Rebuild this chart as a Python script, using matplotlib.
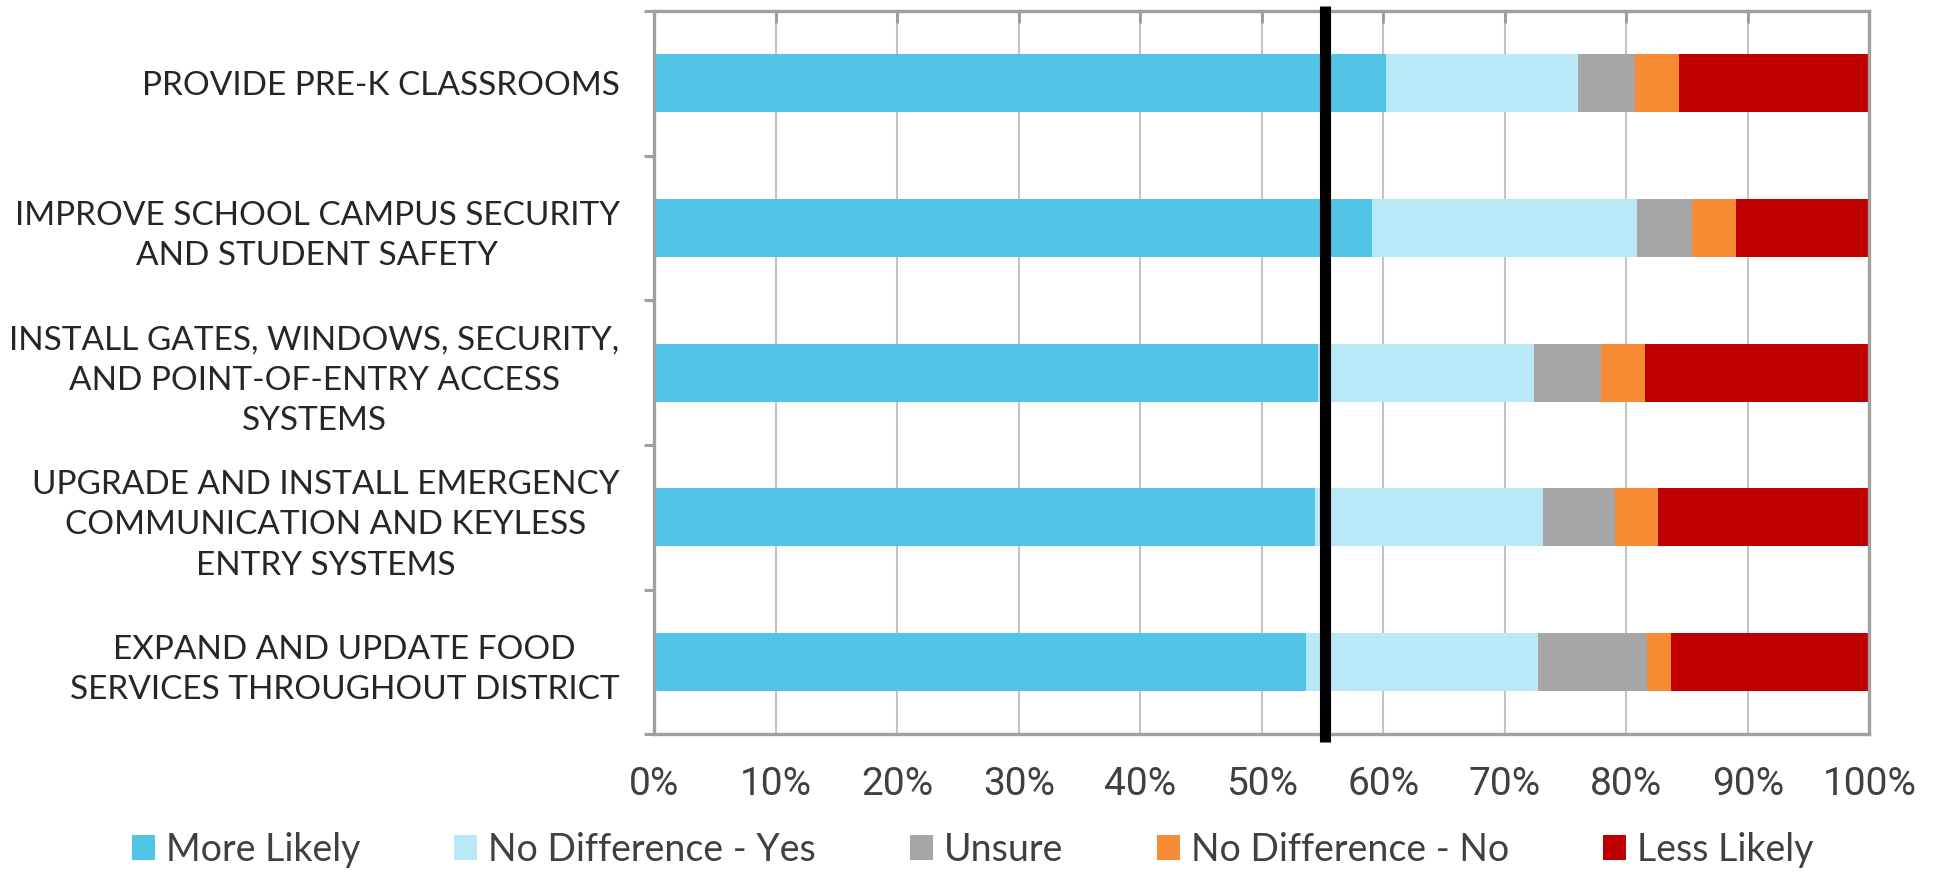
import matplotlib
matplotlib.use("Agg")
import matplotlib.pyplot as plt
import numpy as np

categories = [
    "PROVIDE PRE-K CLASSROOMS",
    "IMPROVE SCHOOL CAMPUS SECURITY\nAND STUDENT SAFETY",
    "INSTALL GATES, WINDOWS, SECURITY,\nAND POINT-OF-ENTRY ACCESS\nSYSTEMS",
    "UPGRADE AND INSTALL EMERGENCY\nCOMMUNICATION AND KEYLESS\nENTRY SYSTEMS",
    "EXPAND AND UPDATE FOOD\nSERVICES THROUGHOUT DISTRICT",
]
series_names = ["More Likely", "No Difference - Yes", "Unsure", "No Difference - No", "Less Likely"]
more_likely = [60.2, 59.1, 54.6, 54.4, 53.6]
no_diff_yes = [15.8, 21.8, 17.8, 18.7, 19.1]
unsure = [4.7, 4.5, 5.5, 6.0, 9.0]
no_diff_no = [3.6, 3.6, 3.6, 3.5, 2.0]
less_likely = [15.7, 11.0, 18.5, 17.4, 16.3]
reference_line = 55.2
x_ticks = [0, 10, 20, 30, 40, 50, 60, 70, 80, 90, 100]
x_tick_labels = ["0%", "10%", "20%", "30%", "40%", "50%", "60%", "70%", "80%", "90%", "100%"]

colors = ["#52C5E6", "#B9E8F6", "#A6A6A6", "#F68B33", "#C00000"]

fig = plt.figure(figsize=(19.37, 8.72), dpi=100)
ax = fig.add_axes([0.3378, 0.1579, 0.6273, 0.8295])

series = [more_likely, no_diff_yes, unsure, no_diff_no, less_likely]
totals = np.sum(np.array(series), axis=0)
y = np.arange(len(categories))
left = np.zeros(len(categories))
for name, vals, c in zip(series_names, series, colors):
    v = np.array(vals) / totals * 100
    ax.barh(y, v, left=left, height=0.4, color=c, label=name, linewidth=0, zorder=2)
    left += v

ax.set_xlim(0, 100)
ax.set_ylim(len(categories) - 0.5, -0.5)

# vertical reference line
ax.plot([reference_line, reference_line], [len(categories) - 0.5 + 0.055, -0.5 - 0.035],
        color="black", linewidth=8, solid_capstyle="butt", clip_on=False, zorder=5)

# grid
ax.set_xticks(x_ticks)
ax.set_xticklabels(x_tick_labels, family=["Roboto", "DejaVu Sans"], fontsize=28, color="#404040")
ax.xaxis.grid(True, color="#C4C4C4", linewidth=1.5, zorder=0)
ax.set_axisbelow(True)
ax.tick_params(axis="x", bottom=False, top=True, direction="in", length=8.5, width=2,
               color="#9A9A9A", pad=23, labelbottom=True, labeltop=False)

# y ticks at category boundaries, labels at centers
ax.set_yticks(np.arange(-0.5, len(categories), 1.0))
ax.set_yticklabels([])
ax.set_yticks(y, minor=True)
ax.set_yticklabels(categories, minor=True, family=["Lato", "DejaVu Sans"], fontsize=24,
                   color="#262626", multialignment="center", linespacing=1.43)
ax.tick_params(axis="y", which="major", direction="out", length=7.5, width=2.2, color="#A0A0A0")
ax.tick_params(axis="y", which="minor", length=0, pad=25)

for s in ax.spines.values():
    s.set_color("#A0A0A0")
    s.set_linewidth(2.4)

handles, labels = ax.get_legend_handles_labels()
leg = fig.legend(handles, labels, loc="center", bbox_to_anchor=(0.5023, 1 - 850 / 872), ncol=5,
                 frameon=False, prop={"family": ["Lato", "DejaVu Sans"], "size": 27},
                 handlelength=0.61, handleheight=0.66, handletextpad=0.3, columnspacing=2.5,
                 borderaxespad=0, borderpad=0)
for t in leg.get_texts():
    t.set_color("#404040")

fig.savefig("out.png", dpi=100)
